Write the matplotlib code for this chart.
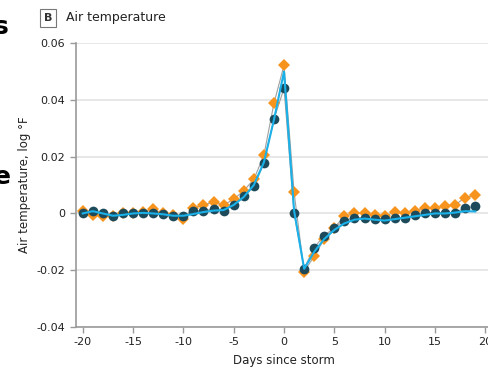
import matplotlib.pyplot as plt
import numpy as np

days = list(range(-20, 20))

# dark circles
observed = [0.0, 0.001, 0.0, -0.001, 0.0, 0.0003, 0.0, 0.0, -0.0003, -0.001,
            -0.001, 0.0007, 0.001, 0.0015, 0.001, 0.003, 0.006, 0.0095, 0.0176, 0.0332,
            0.0441, 0.0, -0.0194, -0.012, -0.0078, -0.005, -0.0025, -0.0015, -0.0015, -0.0018,
            -0.0018, -0.0015, -0.0015, -0.0007, 0.0003, 0.0003, 0.0, 0.0003, 0.002, 0.0025]

# orange diamonds
adjusted = [0.001, -0.0005, -0.001, -0.001, 0.0, 0.0, 0.0005, 0.0015, 0.0, -0.0005,
            -0.002, 0.002, 0.003, 0.004, 0.003, 0.005, 0.008, 0.012, 0.0205, 0.0388,
            0.0522, 0.0074, -0.0205, -0.015, -0.009, -0.005, -0.001, 0.0, 0.0, -0.0005,
            -0.001, 0.0005, 0.0, 0.001, 0.002, 0.002, 0.0025, 0.003, 0.0056, 0.0065]

# blue fitted curve
fitted = [0.0, 0.0008, 0.0, -0.0008, -0.0005, 0.0, 0.0002, 0.0, -0.0003, -0.0008,
          -0.0008, -0.0002, 0.0005, 0.001, 0.0012, 0.003, 0.0058, 0.010, 0.018, 0.033,
          0.050, 0.001, -0.0195, -0.0135, -0.009, -0.0058, -0.0035, -0.0022, -0.0018, -0.0022,
          -0.0025, -0.002, -0.0015, -0.001, -0.0005, 0.0, 0.0, 0.0003, 0.0008, 0.0007]

xticks = [-20, -15, -10, -5, 0, 5, 10, 15, 20]
yticks = [-0.04, -0.02, 0, 0.02, 0.04, 0.06]
ytick_labels = ["-0.04", "-0.02", "0", "0.02", "0.04", "0.06"]

grey = "#9a9a9a"
fig = plt.figure(figsize=(4.88, 3.75), dpi=100)
ax = fig.add_axes([0.155, 0.128, 0.854, 0.757])

ax.plot(days, adjusted, color="#a0a0a0", lw=0.8, zorder=2)
ax.plot(days, observed, color="#a0a0a0", lw=0.8, zorder=2)
ax.plot(days, adjusted, "D", color="#f7941d", ms=6, mew=0, zorder=3)
ax.plot(days, observed, "o", color="#1d4a5a", ms=7, mew=0, zorder=4)
ax.plot(days, fitted, color="#1ab0e8", lw=1.5, zorder=5)

ax.set_xlim(-20.7, 20.7)
ax.set_ylim(-0.04, 0.06)
ax.set_xticks(xticks)
ax.set_xticklabels([str(t) for t in xticks])
ax.set_yticks(yticks)
ax.set_yticklabels(ytick_labels)
ax.yaxis.grid(True, color="#e3e3e3", lw=1.2)
ax.set_axisbelow(True)
for side in ["top", "right"]:
    ax.spines[side].set_visible(False)
for side in ["left", "bottom"]:
    ax.spines[side].set_color(grey)
    ax.spines[side].set_linewidth(1.2)
ax.tick_params(colors=grey, labelcolor="#222222", labelsize=8, length=4, width=1)
ax.set_xlabel("Days since storm", fontsize=8.5, color="#222222", labelpad=5)
ax.set_ylabel("Air temperature, log °F", fontsize=8.5, color="#222222", labelpad=4)

# panel label
fig.text(0.098, 0.953, "B", fontsize=8, fontweight="bold", color="#333333",
         ha="center", va="center",
         bbox=dict(boxstyle="square,pad=0.35", fc="white", ec="#777777", lw=0.8))
fig.text(0.135, 0.953, "Air temperature", fontsize=9, color="#222222", va="center")

# fragments of the neighbouring panel at the left edge
fig.text(-0.012, 0.91, "s", fontsize=18, fontweight="bold", color="black")
fig.text(-0.012, 0.51, "e", fontsize=18, fontweight="bold", color="black")

fig.savefig("out.png", dpi=100)
